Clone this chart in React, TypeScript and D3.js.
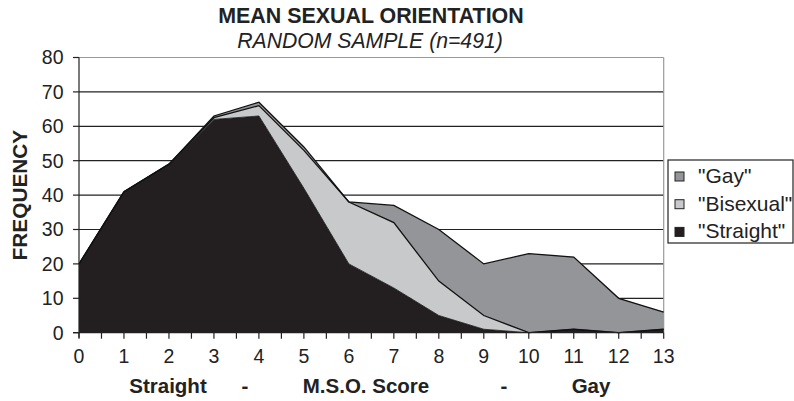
import React from "react";
import * as d3 from "d3";

const scores = [0, 1, 2, 3, 4, 5, 6, 7, 8, 9, 10, 11, 12, 13];
const straight = [20, 41, 49, 62, 63, 42, 20, 13, 5, 1, 0, 1, 0, 1];
const bisexual = [0, 0, 0, 0.5, 3, 11, 18, 19, 10, 4, 0, 0, 0, 0];
const gay = [0, 0, 0, 0.5, 1, 1, 0, 5, 15, 15, 23, 21, 10, 5];
const yTicks = [0, 10, 20, 30, 40, 50, 60, 70, 80];
const seriesKeys = ["Straight", "Bisexual", "Gay"];
const legendOrder = ["Gay", "Bisexual", "Straight"];
const colors: Record<string, string> = {
  Straight: "#231f20",
  Bisexual: "#c8c9cb",
  Gay: "#939598",
};
const xLabelParts = [
  { text: "Straight", x: 168 },
  { text: "-", x: 245 },
  { text: "M.S.O. Score", x: 366 },
  { text: "-", x: 504 },
  { text: "Gay", x: 591 },
];

const FONT = "'Liberation Sans', Arial, Helvetica, sans-serif";

export default function App() {
  const W = 794;
  const H = 401;
  const left = 79;
  const right = 663.7;
  const top = 57.5;
  const bottom = 332.7;

  const x = d3.scaleLinear().domain([0, 13]).range([left, right]);
  const y = d3.scaleLinear().domain([0, 80]).range([bottom, top]);

  const table = scores.map((s, i) => ({
    score: s,
    Straight: straight[i],
    Bisexual: bisexual[i],
    Gay: gay[i],
  }));
  const stacked = d3.stack<any>().keys(seriesKeys)(table);

  const area = d3
    .area<any>()
    .x((d) => x(d.data.score))
    .y0((d) => y(d[0]))
    .y1((d) => y(d[1]));
  const line = d3
    .line<any>()
    .x((d) => x(d.data.score))
    .y((d) => y(d[1]));

  const halfTicks = d3.range(0, 13.01, 0.5);

  return (
    <svg
      width={W}
      height={H}
      style={{ position: "absolute", left: 0, top: 0, background: "#fff" }}
      fontFamily={FONT}
    >
      <rect x={0} y={0} width={W} height={H} fill="#fff" />
      {/* gridlines */}
      {yTicks.slice(1, -1).map((t) => (
        <line
          key={"g" + t}
          x1={left}
          x2={right}
          y1={y(t)}
          y2={y(t)}
          stroke="#222"
          strokeWidth={1.2}
        />
      ))}
      {/* plot border top / right */}
      <line x1={left} x2={right} y1={top} y2={top} stroke="#999" strokeWidth={1.2} />
      <line x1={right} x2={right} y1={top} y2={bottom} stroke="#999" strokeWidth={1.2} />

      {/* stacked areas */}
      {stacked.map((s) => (
        <path key={s.key} d={area(s) || ""} fill={colors[s.key]} stroke="none" />
      ))}
      {stacked.map((s) => (
        <path
          key={"l" + s.key}
          d={line(s) || ""}
          fill="none"
          stroke="#111"
          strokeWidth={s.key === "Straight" ? 0.8 : 1.3}
        />
      ))}

      {/* axes */}
      <line x1={left} x2={left} y1={top} y2={bottom + 5} stroke="#222" strokeWidth={1.2} />
      <line x1={left - 6} x2={right} y1={bottom} y2={bottom} stroke="#222" strokeWidth={1.2} />
      {yTicks.map((t) => (
        <g key={"yt" + t}>
          <line x1={left - 6} x2={left} y1={y(t)} y2={y(t)} stroke="#222" strokeWidth={1.2} />
          <text
            x={63.5}
            y={y(t)}
            dy="0.35em"
            textAnchor="end"
            fontSize={19.5}
            fill="#222"
          >
            {t}
          </text>
        </g>
      ))}
      {halfTicks.map((t) => (
        <line
          key={"xt" + t}
          x1={x(t)}
          x2={x(t)}
          y1={bottom}
          y2={bottom + 6}
          stroke="#222"
          strokeWidth={1.2}
        />
      ))}
      {scores.map((s) => (
        <text
          key={"xl" + s}
          x={x(s)}
          y={363}
          textAnchor="middle"
          fontSize={19.5}
          fill="#222"
        >
          {s}
        </text>
      ))}

      {/* axis titles */}
      {xLabelParts.map((p, i) => (
        <text
          key={"xp" + i}
          x={p.x}
          y={393}
          textAnchor="middle"
          fontSize={20.5}
          fontWeight="bold"
          fill="#222"
        >
          {p.text}
        </text>
      ))}
      <text
        transform={`translate(26.5, ${(top + bottom) / 2}) rotate(-90)`}
        textAnchor="middle"
        fontSize={20.8}
        fontWeight="bold"
        fill="#222"
      >
        FREQUENCY
      </text>

      {/* titles */}
      <text x={371} y={23} textAnchor="middle" fontSize={21.4} fontWeight="bold" fill="#222">
        MEAN SEXUAL ORIENTATION
      </text>
      <text x={370} y={48} textAnchor="middle" fontSize={21.2} fontStyle="italic" fill="#222">
        RANDOM SAMPLE (n=491)
      </text>

      {/* legend */}
      <rect x={668} y={160} width={125} height={83} fill="#fff" stroke="#222" strokeWidth={1.2} />
      {legendOrder.map((k, i) => (
        <g key={"lg" + k} transform={`translate(0, ${i * 27.7})`}>
          <rect x={675} y={172} width={9} height={9} fill={colors[k]} stroke="#222" strokeWidth={1} />
          <text x={698} y={183} fontSize={21} fill="#222">
            {`"${k}"`}
          </text>
        </g>
      ))}
    </svg>
  );
}
